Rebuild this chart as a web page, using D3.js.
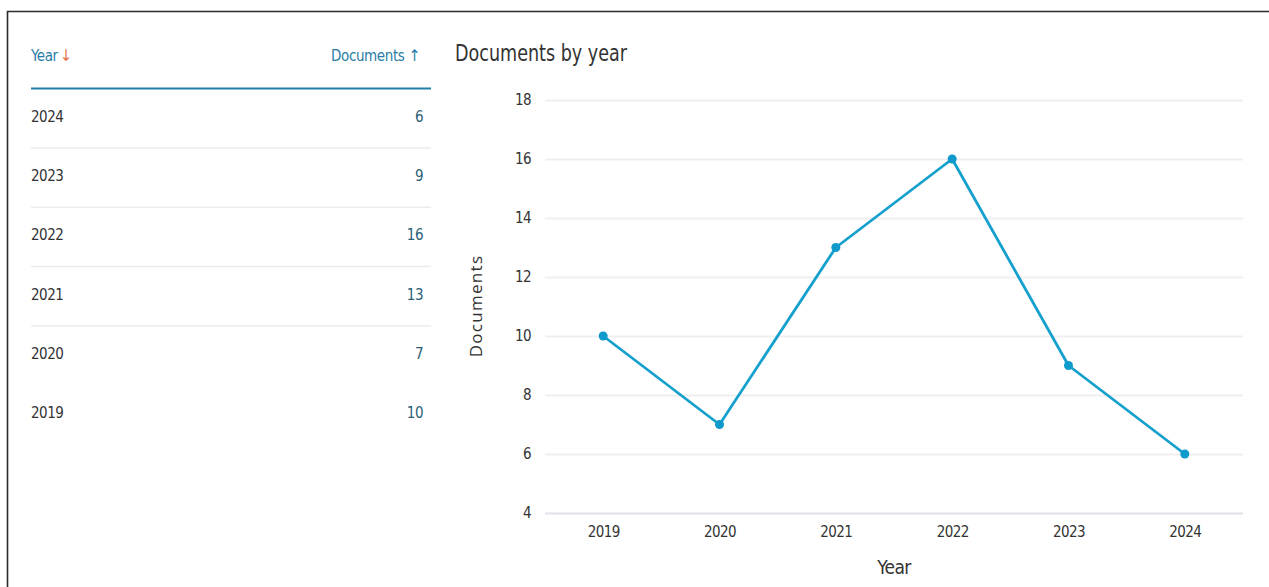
<!DOCTYPE html>
<html>
<head>
<meta charset="utf-8">
<script src="https://cdn.jsdelivr.net/npm/d3@7"></script>
<style>
  body { margin: 0; background: #fff; }
  svg { display: block; }
  .cond { font-family: "Liberation Sans Narrow", "DejaVu Sans Condensed", "Roboto Condensed", sans-serif; }
</style>
</head>
<body>
<div id="chart"></div>
<script>
// values
var years = ["2019", "2020", "2021", "2022", "2023", "2024"];
var documents = [10, 7, 13, 16, 9, 6];
var yTicks = [4, 6, 8, 10, 12, 14, 16, 18];

var width = 1269, height = 587;

var svg = d3.select("#chart").append("svg")
    .attr("width", width)
    .attr("height", height);

// frame (top and left edges only)
svg.append("path")
    .attr("d", "M7.5,587 V11.5 H1269")
    .attr("fill", "none")
    .attr("stroke", "#2b2b2b")
    .attr("stroke-width", 1.6);

// ---- table on the left ----
var tbl = svg.append("g").attr("class", "cond");
var tLeft = 31, tRight = 431;

tbl.append("text")
    .attr("x", tLeft).attr("y", 61)
    .attr("font-size", 15).attr("fill", "#2a7ea6")
    .attr("letter-spacing", -0.4)
    .text("Year")
  .append("tspan")
    .attr("fill", "#e8704a").attr("dx", 2)
    .attr("font-size", 16)
    .text("↓");

tbl.append("text")
    .attr("x", tRight - 11).attr("y", 61)
    .attr("text-anchor", "end")
    .attr("font-size", 15).attr("fill", "#2a7ea6")
    .attr("letter-spacing", -0.4)
    .text("Documents ")
  .append("tspan")
    .attr("font-size", 16)
    .text("↑");

tbl.append("line")
    .attr("x1", tLeft).attr("x2", tRight)
    .attr("y1", 88.5).attr("y2", 88.5)
    .attr("stroke", "#1e7fa8").attr("stroke-width", 2);

var rows = years.map(function(y, i) { return {year: y, count: documents[i]}; }).reverse();
var rowY = d3.scaleLinear().domain([0, 5]).range([116, 412]);

var gRow = tbl.selectAll("g.row")
    .data(rows)
  .enter().append("g")
    .attr("class", "row");

gRow.append("text")
    .attr("x", tLeft)
    .attr("y", function(d, i) { return rowY(i) + 6; })
    .attr("font-size", 15).attr("fill", "#333")
    .attr("letter-spacing", -0.5)
    .text(function(d) { return d.year; });

gRow.append("text")
    .attr("x", tRight - 8)
    .attr("y", function(d, i) { return rowY(i) + 6; })
    .attr("text-anchor", "end")
    .attr("font-size", 15).attr("fill", "#2b5f78")
    .attr("letter-spacing", -0.5)
    .text(function(d) { return d.count; });

// separators between rows (the last one is not drawn in the original)
gRow.filter(function(d, i) { return i < rows.length - 2; })
  .append("line")
    .attr("x1", tLeft).attr("x2", tRight)
    .attr("y1", function(d, i) { return rowY(i + 0.5) + 2.5; })
    .attr("y2", function(d, i) { return rowY(i + 0.5) + 2.5; })
    .attr("stroke", "#ececec").attr("stroke-width", 1.5);

// ---- line chart on the right ----
var plot = {left: 545, right: 1243, top: 100, bottom: 513};

svg.append("text")
    .attr("class", "cond")
    .attr("x", 455).attr("y", 61)
    .attr("font-size", 23).attr("fill", "#333")
    .attr("textLength", 172).attr("lengthAdjust", "spacingAndGlyphs")
    .text("Documents by year");

var x = d3.scalePoint()
    .domain(years)
    .range([plot.left, plot.right])
    .padding(0.5);

var y = d3.scaleLinear()
    .domain([4, 18])
    .range([plot.bottom, plot.top]);

// gridlines + y labels
var yAxis = svg.append("g")
    .attr("class", "cond")
    .attr("transform", "translate(" + plot.left + ",0)")
    .call(d3.axisLeft(y).tickValues(yTicks).tickSize(-(plot.right - plot.left)).tickPadding(14));

yAxis.select(".domain").remove();
yAxis.selectAll(".tick line")
    .attr("stroke", function(d) { return d === 4 ? "#dfe2ea" : "#efefef"; })
    .attr("stroke-width", 2);
yAxis.selectAll(".tick text")
    .attr("font-size", 15).attr("fill", "#333")
    .attr("letter-spacing", -0.6)
    .attr("font-family", null);

// x labels
var xAxis = svg.append("g")
    .attr("class", "cond")
    .attr("transform", "translate(0," + plot.bottom + ")")
    .call(d3.axisBottom(x).tickSize(0).tickPadding(13));

xAxis.select(".domain").remove();
xAxis.selectAll(".tick text")
    .attr("font-size", 15).attr("fill", "#333")
    .attr("letter-spacing", -0.6)
    .attr("font-family", null);

// axis titles
svg.append("text")
    .attr("class", "cond")
    .attr("x", (plot.left + plot.right) / 2)
    .attr("y", 574)
    .attr("text-anchor", "middle")
    .attr("font-size", 19).attr("fill", "#333")
    .attr("letter-spacing", -0.6)
    .text("Year");

svg.append("text")
    .attr("transform", "translate(482," + 306 + ") rotate(-90)")
    .attr("text-anchor", "middle")
    .attr("font-family", "'Open Sans', sans-serif")
    .attr("font-size", 17).attr("letter-spacing", 1.3).attr("fill", "#333")
    .text("Documents");

// series
var pts = years.map(function(yr, i) { return {year: yr, value: documents[i]}; });

var line = d3.line()
    .x(function(d) { return x(d.year); })
    .y(function(d) { return y(d.value); });

svg.append("path")
    .datum(pts)
    .attr("d", line)
    .attr("fill", "none")
    .attr("stroke", "#15a0cd")
    .attr("stroke-width", 2.8)
    .attr("stroke-linejoin", "round");

svg.selectAll("circle.pt")
    .data(pts)
  .enter().append("circle")
    .attr("class", "pt")
    .attr("cx", function(d) { return x(d.year); })
    .attr("cy", function(d) { return y(d.value); })
    .attr("r", 4.5)
    .attr("fill", "#0f9acb");
</script>
</body>
</html>
